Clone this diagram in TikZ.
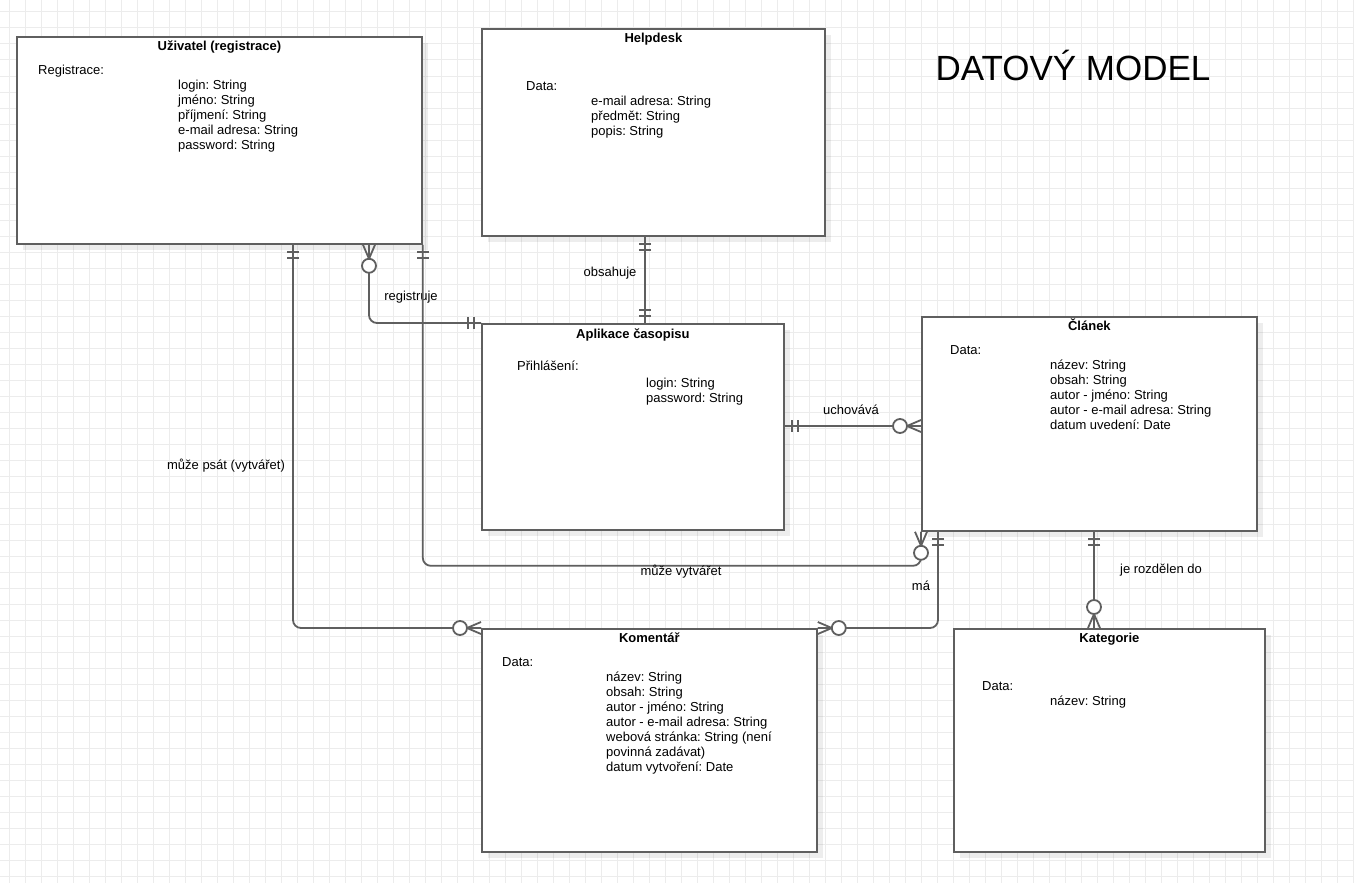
\documentclass[tikz,border=0pt]{standalone}
\usepackage{fontspec}
\setmainfont{Liberation Sans}
\frenchspacing
\usetikzlibrary{calc,shadows}
\definecolor{linegray}{RGB}{95,95,95}
\definecolor{gridgray}{RGB}{236,236,236}
\tikzset{
  box/.style={draw=linegray, line width=1.8pt, fill=white, anchor=north west, inner sep=0pt,
    drop shadow={shadow xshift=6pt, shadow yshift=-6pt, opacity=0.07, fill=black}},
  conn/.style={draw=linegray, line width=1.8pt, rounded corners=8},
  gridline/.style={draw=gridgray, line width=1pt},
  txt/.style={font=\fontsize{13}{15}\selectfont, inner sep=0pt, anchor=base west, align=left},
  head/.style={font=\bfseries\fontsize{13}{15}\selectfont, inner sep=0pt, anchor=base},
  lbl/.style={font=\fontsize{13}{15}\selectfont, inner sep=0pt},
  pics/onlyone/.style={code={
    \draw[linegray, line width=1.8pt] (7,-6)--(7,6) (13,-6)--(13,6);}},
  pics/zeromany/.style={code={
    \draw[linegray, line width=1.8pt, line join=round] (0,-6)--(14,0)--(0,6) (0,0)--(14,0);
    \draw[linegray, line width=1.8pt, fill=white] (21,0) circle (7);}},
}
\begin{document}
\begin{tikzpicture}[x=1pt,y=-1pt]
\useasboundingbox (0,0) rectangle (1354,883);
\fill[white] (0,0) rectangle (1354,883);
% background grid
\foreach \gx in {9,25,...,1353} \draw[gridline] (\gx,0) -- (\gx,883);
\foreach \gy in {12,28,...,882} \draw[gridline] (0,\gy) -- (1354,\gy);

\node[font=\fontsize{35}{40}\selectfont, inner sep=0pt] (nadpis) at (1073,65) {DATOVÝ MODEL};

% entities
\node[box, minimum width=405, minimum height=207] (uziv) at (16,36) {};
\node[box, minimum width=343, minimum height=207] (help) at (481,28) {};
\node[box, minimum width=302, minimum height=206] (apl) at (481,323) {};
\node[box, minimum width=335, minimum height=214] (cla) at (921,316) {};
\node[box, minimum width=335, minimum height=223] (kom) at (481,628) {};
\node[box, minimum width=311, minimum height=223] (kat) at (953,628) {};

% texts (base = last line)
\node[head] (uzivh) at ($(uziv.north)+(0,14.5)$) {Uživatel (registrace)};
\node[txt] (uzivd) at (38,74.5) {Registrace:};
\node[txt] (uzivf) at (178,149.5) {login: String\\jméno: String\\příjmení: String\\e-mail adresa: String\\password: String};

\node[head] (helph) at ($(help.north)+(0,14.5)$) {Helpdesk};
\node[txt] (helpd) at (526,90.5) {Data:};
\node[txt] (helpf) at (591,135.5) {e-mail adresa: String\\předmět: String\\popis: String};

\node[head] (aplh) at ($(apl.north)+(0,15.5)$) {Aplikace časopisu};
\node[txt] (apld) at (517,370.5) {Přihlášení:};
\node[txt] (aplf) at (646,402.5) {login: String\\password: String};

\node[head] (clah) at ($(cla.north)+(0,14.5)$) {Článek};
\node[txt] (clad) at (950,354.5) {Data:};
\node[txt] (claf) at (1050,429.5) {název: String\\obsah: String\\autor - jméno: String\\autor - e-mail adresa: String\\datum uvedení: Date};

\node[head] (komh) at ($(kom.north)+(0,14.5)$) {Komentář};
\node[txt] (komd) at (502,666.5) {Data:};
\node[txt] (komf) at (606,771.5) {název: String\\obsah: String\\autor - jméno: String\\autor - e-mail adresa: String\\webová stránka: String (není\\povinná zadávat)\\datum vytvoření: Date};

\node[head] (kath) at ($(kat.north)+(0,14.5)$) {Kategorie};
\node[txt] (katd) at (982,690.5) {Data:};
\node[txt] (katf) at (1050,705.5) {název: String};

% relationships
\coordinate (psat) at ($(uziv.south west)+(277,0)$);
\draw[conn] (psat) |- (kom.north west);
\pic[rotate=-90] at (psat) {onlyone};
\pic[rotate=180] at (kom.north west) {zeromany};
\node[lbl] (psatl) at (226,466) {může psát (vytvářet)};

\coordinate (reg) at ($(uziv.south west)+(353,0)$);
\draw[conn] (reg) |- (apl.north west);
\pic[rotate=-90] at (reg) {zeromany};
\pic[rotate=180] at (apl.north west) {onlyone};
\node[lbl] (regl) at (411,297) {registruje};

\coordinate (vytv) at ($(cla.south west)+(0,34)$);
\draw[conn] (uziv.south east) |- (vytv) -- (cla.south west);
\pic[rotate=-90] at (uziv.south east) {onlyone};
\pic[rotate=-90] at (cla.south west) {zeromany};
\node[lbl] (vytvl) at (681,572) {může vytvářet};

\coordinate (obsh) at ($(help.south west)+(164,0)$);
\draw[conn] (obsh) -- (obsh |- apl.north);
\pic[rotate=-90] at (obsh) {onlyone};
\pic[rotate=90] at (obsh |- apl.north) {onlyone};
\node[lbl] (obshl) at (610,273) {obsahuje};

\coordinate (uch) at ($(apl.north east)+(0,103)$);
\draw[conn] (uch) -- (uch -| cla.west);
\pic at (uch) {onlyone};
\pic[rotate=180] at (uch -| cla.west) {zeromany};
\node[lbl] (uchl) at (851,410) {uchovává};

\coordinate (ma) at ($(cla.south west)+(17,0)$);
\draw[conn] (ma) |- (kom.north east);
\pic[rotate=-90] at (ma) {onlyone};
\pic at (kom.north east) {zeromany};
\node[lbl] (mal) at (921,586) {má};

\coordinate (roz) at ($(cla.south west)+(173,0)$);
\draw[conn] (roz) -- (roz |- kat.north);
\pic[rotate=-90] at (roz) {onlyone};
\pic[rotate=90] at (roz |- kat.north) {zeromany};
\node[lbl] (rozl) at (1161,570) {je rozdělen do};
\end{tikzpicture}
\end{document}
